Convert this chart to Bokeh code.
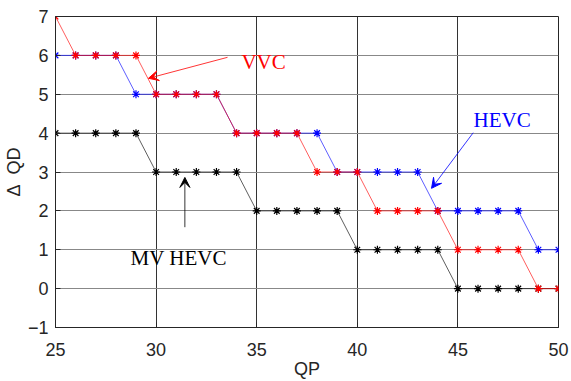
from bokeh.plotting import figure
from bokeh.models import Arrow, VeeHead, Label, FixedTicker
from bokeh.embed import file_html
from bokeh.resources import INLINE

qp = list(range(25, 51))
vvc = [7, 6, 6, 6, 6, 5, 5, 5, 5, 4, 4, 4, 4, 3, 3, 3, 2, 2, 2, 2, 1, 1, 1, 1, 0, 0]
hevc = [6, 6, 6, 6, 5, 5, 5, 5, 5, 4, 4, 4, 4, 4, 3, 3, 3, 3, 3, 2, 2, 2, 2, 2, 1, 1]
mv_hevc = [4, 4, 4, 4, 4, 3, 3, 3, 3, 3, 2, 2, 2, 2, 2, 1, 1, 1, 1, 1, 0, 0, 0, 0, 0, 0]
x_ticks = [25, 30, 35, 40, 45, 50]
y_ticks = [-1, 0, 1, 2, 3, 4, 5, 6, 7]

p = figure(width=571, height=381, x_range=(25, 50), y_range=(-1, 7),
           output_backend="svg", toolbar_location=None,
           min_border_left=55, min_border_right=13, min_border_top=16, min_border_bottom=54)
p.background_fill_color = "white"
p.border_fill_color = "white"
p.outline_line_color = "#262626"
p.outline_line_width = 1
p.outline_line_alpha = 1

p.xaxis.ticker = FixedTicker(ticks=x_ticks)
p.yaxis.ticker = FixedTicker(ticks=y_ticks)
p.xaxis.minor_tick_line_color = None
p.yaxis.minor_tick_line_color = None
for ax in (p.xaxis, p.yaxis):
    ax.major_tick_in = 5
    ax.major_tick_out = 0
    ax.axis_line_color = "#262626"
    ax.major_tick_line_color = "#262626"
    ax.major_label_text_font = "Liberation Sans"
    ax.major_label_text_font_size = "18px"
    ax.major_label_text_color = "#262626"
    ax.axis_label_text_font = "Liberation Sans"
    ax.axis_label_text_font_size = "18px"
    ax.axis_label_text_font_style = "normal"
    ax.axis_label_text_color = "#262626"
p.xaxis.axis_label = "QP"
p.yaxis.axis_label = "Δ\u00a0\u00a0QD"
p.xaxis.major_label_standoff = 15
p.xaxis.axis_label_standoff = 0
p.yaxis.major_label_standoff = 7
p.yaxis.axis_label_standoff = 1

p.xgrid.ticker = FixedTicker(ticks=x_ticks)
p.ygrid.ticker = FixedTicker(ticks=y_ticks)
p.xgrid.grid_line_color = "#333333"
p.xgrid.grid_line_alpha = 1
p.ygrid.grid_line_color = "#888888"
p.ygrid.grid_line_alpha = 1

p.line(qp, mv_hevc, line_color="#000000", line_width=0.8, line_alpha=0.8)
p.scatter(qp, mv_hevc, marker="asterisk", size=8, line_color="#000000", line_width=1.2)
p.line(qp, hevc, line_color="#0000ff", line_width=0.8, line_alpha=0.8)
p.scatter(qp, hevc, marker="asterisk", size=8, line_color="#0000ff", line_width=1.2)
p.line(qp, vvc, line_color="#ff0000", line_width=0.8, line_alpha=0.8)
p.scatter(qp, vvc, marker="asterisk", size=8, line_color="#ff0000", line_width=1.2)

serif = "Liberation Serif"
p.add_layout(Label(x=34.24, y=5.82, text="VVC", text_color="#ff0000", text_font=serif,
                   text_font_size="21px", text_baseline="alphabetic", text_align="left"))
p.add_layout(Label(x=45.78, y=4.33, text="HEVC", text_color="#0000ff", text_font=serif,
                   text_font_size="21px", text_baseline="alphabetic", text_align="left"))
p.add_layout(Label(x=28.73, y=0.80, text="MV HEVC", text_color="#000000", text_font=serif,
                   text_font_size="21px", text_baseline="alphabetic", text_align="left"))

p.add_layout(Arrow(x_start=33.55, y_start=5.95, x_end=29.62, y_end=5.41, line_color="#ff0000",
                   line_width=0.8,
                   end=VeeHead(size=10, line_color="#ff0000", fill_color="#ff0000", line_width=1)))
p.add_layout(Arrow(x_start=45.76, y_start=4.01, x_end=43.69, y_end=2.58, line_color="#0000ff",
                   line_width=0.8,
                   end=VeeHead(size=10, line_color="#0000ff", fill_color="#0000ff", line_width=1)))
p.add_layout(Arrow(x_start=31.43, y_start=1.58, x_end=31.43, y_end=2.86, line_color="#000000",
                   line_width=0.8,
                   end=VeeHead(size=10, line_color="#000000", fill_color="#000000", line_width=1)))

open("out.html", "w").write(file_html(p, INLINE))
